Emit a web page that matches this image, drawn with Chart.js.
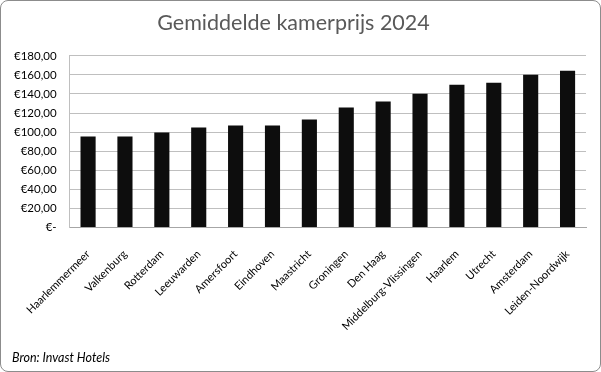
<!DOCTYPE html>
<html>
<head>
<meta charset="utf-8">
<script src="https://cdn.jsdelivr.net/npm/chart.js@4/dist/chart.umd.min.js"></script>
<style>
  html, body { margin: 0; padding: 0; background: #fff; }
  .card {
    position: relative;
    width: 599px;
    height: 370px;
    border: 1px solid #8c8c8c;
    border-radius: 8px;
    overflow: hidden;
  }
  .source {
    position: absolute;
    left: 11px;
    top: 349px;
    font: italic 12.5px Lato, sans-serif;
    color: #000;
  }
</style>
</head>
<body>
<div class="card">
  <canvas id="bar-chart" width="599" height="370"></canvas>
  <div class="source">Bron: Invast Hotels</div>
</div>
<script>
// Gemiddelde kamerprijs per regio, 2024
var cities = ["Haarlemmermeer", "Valkenburg", "Rotterdam", "Leeuwarden", "Amersfoort", "Eindhoven",
  "Maastricht", "Groningen", "Den Haag", "Middelburg-Vlissingen", "Haarlem", "Utrecht", "Amsterdam", "Leiden-Noordwijk"];
var prices = [95.4, 95.4, 99.6, 104.8, 106.9, 106.9, 113.2, 125.7, 132.0, 140.3, 149.7, 151.8, 160.2, 164.3];
var yTicks = [0, 20, 40, 60, 80, 100, 120, 140, 160, 180];

function euro(v) {
  if (v === 0) return "€-";
  return "€" + v.toFixed(2).replace(".", ",");
}

var config = {
  type: "bar",
  data: {
    labels: cities,
    datasets: [
      {
        label: "Gemiddelde kamerprijs",
        data: prices,
        backgroundColor: "#0d0d0d",
        categoryPercentage: 1,
        barPercentage: 0.41,
      },
    ],
  },
  options: {
    responsive: false,
    animation: false,
    layout: {
      padding: { left: 0, right: 14, top: 0, bottom: 26 },
    },
    plugins: {
      legend: { display: false },
      tooltip: { enabled: false },
      title: {
        display: true,
        text: "Gemiddelde kamerprijs 2024",
        color: "#595959",
        font: { family: "Lato", size: 21.5, weight: "normal" },
        padding: { top: 9, bottom: 20 },
      },
    },
    scales: {
      x: {
        grid: { display: false },
        border: { color: "#a6a6a6" },
        ticks: {
          color: "#000",
          font: { family: "Lato", size: 11 },
          maxRotation: 45,
          minRotation: 45,
          autoSkip: false,
          padding: 12,
        },
      },
      y: {
        min: 0,
        max: 180,
        afterBuildTicks: function(axis) {
          axis.ticks = yTicks.map(function(v) { return { value: v }; });
        },
        grid: { color: "#bfbfbf", drawTicks: false },
        border: { display: true, color: "#bfbfbf" },
        ticks: {
          color: "#000",
          font: { family: "Lato", size: 11.5 },
          padding: 13,
          callback: function(value) { return euro(value); },
        },
      },
    },
  },
};

var ctx = document.getElementById("bar-chart").getContext("2d");
new Chart(ctx, config);
</script>
</body>
</html>
